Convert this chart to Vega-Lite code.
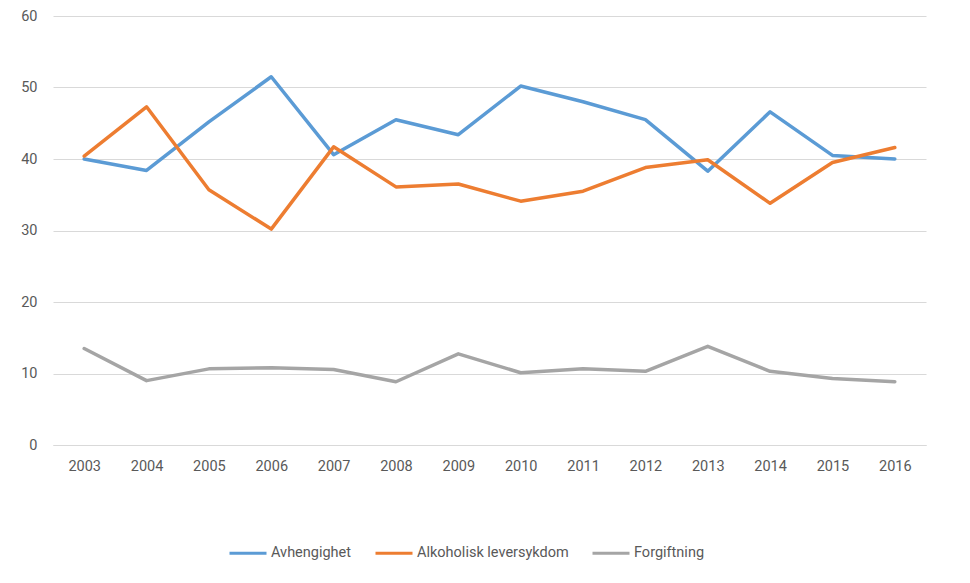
{
  "$schema": "https://vega.github.io/schema/vega-lite/v6.json",
  "autosize": {"type": "none"},
  "width": 873,
  "height": 429,
  "padding": {"left": 53, "top": 16, "right": 44, "bottom": 138},
  "background": "white",
  "config": {
    "view": {"stroke": null},
    "font": "Roboto",
    "axis": {"labelColor": "#595959", "labelFont": "Roboto", "labelFontSize": 14.5},
    "legend": {"labelColor": "#595959", "labelFont": "Roboto", "labelFontSize": 14.5}
  },
  "data": {
    "values": [
      {"year": "2003", "serie": "Avhengighet", "value": 40.0},
      {"year": "2004", "serie": "Avhengighet", "value": 38.4},
      {"year": "2005", "serie": "Avhengighet", "value": 45.2},
      {"year": "2006", "serie": "Avhengighet", "value": 51.5},
      {"year": "2007", "serie": "Avhengighet", "value": 40.6},
      {"year": "2008", "serie": "Avhengighet", "value": 45.5},
      {"year": "2009", "serie": "Avhengighet", "value": 43.4},
      {"year": "2010", "serie": "Avhengighet", "value": 50.2},
      {"year": "2011", "serie": "Avhengighet", "value": 48.0},
      {"year": "2012", "serie": "Avhengighet", "value": 45.5},
      {"year": "2013", "serie": "Avhengighet", "value": 38.3},
      {"year": "2014", "serie": "Avhengighet", "value": 46.6},
      {"year": "2015", "serie": "Avhengighet", "value": 40.5},
      {"year": "2016", "serie": "Avhengighet", "value": 40.0},
      {"year": "2003", "serie": "Alkoholisk leversykdom", "value": 40.4},
      {"year": "2004", "serie": "Alkoholisk leversykdom", "value": 47.3},
      {"year": "2005", "serie": "Alkoholisk leversykdom", "value": 35.7},
      {"year": "2006", "serie": "Alkoholisk leversykdom", "value": 30.2},
      {"year": "2007", "serie": "Alkoholisk leversykdom", "value": 41.7},
      {"year": "2008", "serie": "Alkoholisk leversykdom", "value": 36.1},
      {"year": "2009", "serie": "Alkoholisk leversykdom", "value": 36.5},
      {"year": "2010", "serie": "Alkoholisk leversykdom", "value": 34.1},
      {"year": "2011", "serie": "Alkoholisk leversykdom", "value": 35.5},
      {"year": "2012", "serie": "Alkoholisk leversykdom", "value": 38.8},
      {"year": "2013", "serie": "Alkoholisk leversykdom", "value": 39.9},
      {"year": "2014", "serie": "Alkoholisk leversykdom", "value": 33.8},
      {"year": "2015", "serie": "Alkoholisk leversykdom", "value": 39.5},
      {"year": "2016", "serie": "Alkoholisk leversykdom", "value": 41.6},
      {"year": "2003", "serie": "Forgiftning", "value": 13.5},
      {"year": "2004", "serie": "Forgiftning", "value": 9.0},
      {"year": "2005", "serie": "Forgiftning", "value": 10.65},
      {"year": "2006", "serie": "Forgiftning", "value": 10.8},
      {"year": "2007", "serie": "Forgiftning", "value": 10.55},
      {"year": "2008", "serie": "Forgiftning", "value": 8.85},
      {"year": "2009", "serie": "Forgiftning", "value": 12.75},
      {"year": "2010", "serie": "Forgiftning", "value": 10.1},
      {"year": "2011", "serie": "Forgiftning", "value": 10.65},
      {"year": "2012", "serie": "Forgiftning", "value": 10.3},
      {"year": "2013", "serie": "Forgiftning", "value": 13.8},
      {"year": "2014", "serie": "Forgiftning", "value": 10.3},
      {"year": "2015", "serie": "Forgiftning", "value": 9.3},
      {"year": "2016", "serie": "Forgiftning", "value": 8.85}
    ]
  },
  "mark": {"type": "line", "strokeWidth": 3.5, "strokeCap": "round", "strokeJoin": "round"},
  "encoding": {
    "x": {
      "field": "year",
      "type": "ordinal",
      "scale": {"type": "point", "padding": 0.5},
      "axis": {
        "title": null,
        "labelAngle": 0,
        "ticks": false,
        "domain": true,
        "domainColor": "#D9D9D9",
        "labelPadding": 14,
        "grid": false
      }
    },
    "y": {
      "field": "value",
      "type": "quantitative",
      "scale": {"domain": [0, 60], "nice": false},
      "axis": {
        "title": null,
        "values": [0, 10, 20, 30, 40, 50, 60],
        "ticks": false,
        "domain": false,
        "gridColor": "#D9D9D9",
        "gridWidth": 1,
        "labelPadding": 16
      }
    },
    "color": {
      "field": "serie",
      "type": "nominal",
      "sort": ["Avhengighet", "Alkoholisk leversykdom", "Forgiftning"],
      "scale": {
        "domain": ["Avhengighet", "Alkoholisk leversykdom", "Forgiftning"],
        "range": ["#5B9BD5", "#ED7D31", "#A5A5A5"]
      },
      "legend": {
        "title": null,
        "orient": "none",
        "direction": "horizontal",
        "legendX": 175,
        "legendY": 517,
        "symbolType": "stroke",
        "symbolSize": 1369,
        "symbolStrokeWidth": 3,
        "labelOffset": 3,
        "columnPadding": 17
      }
    }
  }
}
